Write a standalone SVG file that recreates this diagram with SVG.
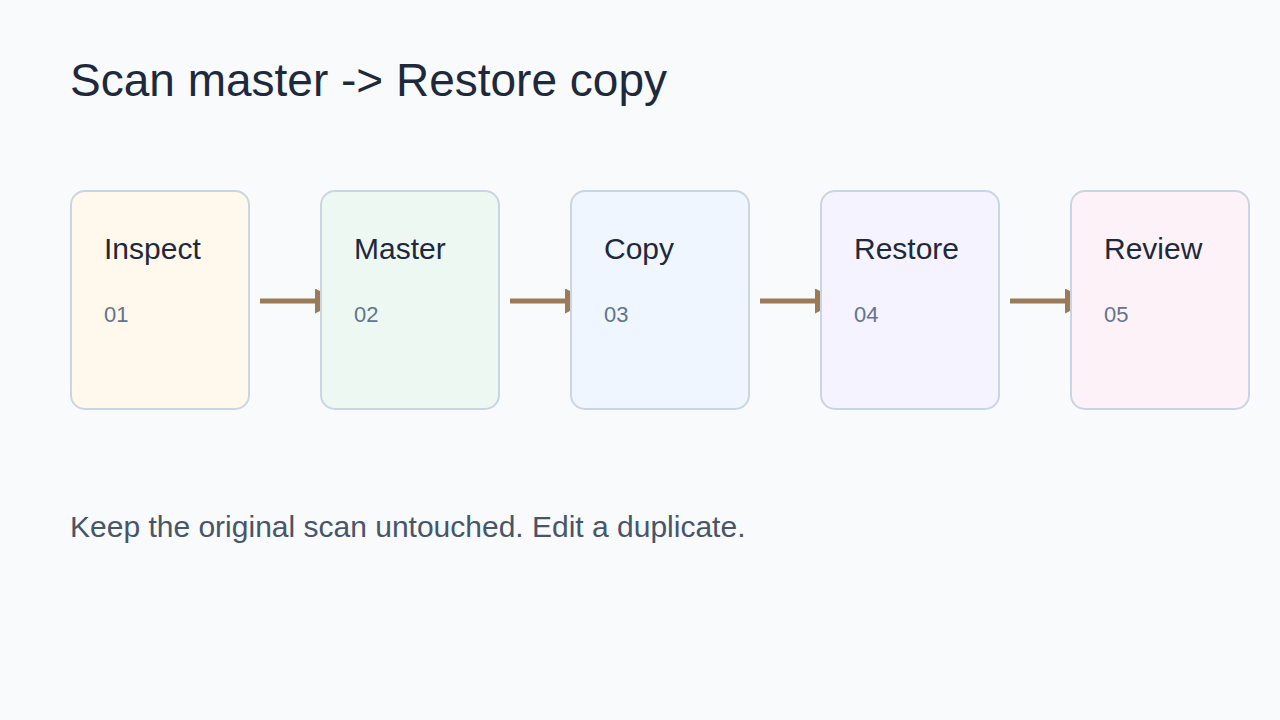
<svg xmlns="http://www.w3.org/2000/svg" width="1280" height="720" viewBox="0 0 1280 720">
<defs>
<style>
.box{stroke:#cbd5e1;stroke-width:2}
.t{font-family:"Liberation Sans",Arial,sans-serif;font-size:30px;fill:#1e293b}
.n{font-family:"Liberation Sans",Arial,sans-serif;font-size:22px;fill:#64748b}
.c{stroke:#9b7a57;stroke-width:5;fill:none}
</style>
<marker id="ah" viewBox="0 0 10 10" refX="0" refY="5" markerWidth="5" markerHeight="5" orient="auto" markerUnits="strokeWidth">
<path d="M0,0 L10,5 L0,10 z" fill="#9b7a57"/>
</marker>
</defs>
<rect width="1280" height="720" fill="#f8fafc"/>
<text x="70" y="96" font-family="Liberation Sans, Arial, sans-serif" font-size="46" fill="#1e293b">Scan master -&gt; Restore copy</text>
<g id="connectors">
<line class="c" x1="260" y1="301" x2="315" y2="301" marker-end="url(#ah)"/>
<line class="c" x1="510" y1="301" x2="565" y2="301" marker-end="url(#ah)"/>
<line class="c" x1="760" y1="301" x2="815" y2="301" marker-end="url(#ah)"/>
<line class="c" x1="1010" y1="301" x2="1065" y2="301" marker-end="url(#ah)"/>
</g>
<g id="inspect"><rect class="box" x="71" y="191" width="178" height="218" rx="14" fill="#fff8ed"/><text class="t" x="104" y="259">Inspect</text><text class="n" x="104" y="322">01</text></g>
<g id="master"><rect class="box" x="321" y="191" width="178" height="218" rx="14" fill="#eef8f3"/><text class="t" x="354" y="259">Master</text><text class="n" x="354" y="322">02</text></g>
<g id="copy"><rect class="box" x="571" y="191" width="178" height="218" rx="14" fill="#eff6ff"/><text class="t" x="604" y="259">Copy</text><text class="n" x="604" y="322">03</text></g>
<g id="restore"><rect class="box" x="821" y="191" width="178" height="218" rx="14" fill="#f5f3ff"/><text class="t" x="854" y="259">Restore</text><text class="n" x="854" y="322">04</text></g>
<g id="review"><rect class="box" x="1071" y="191" width="178" height="218" rx="14" fill="#fdf2f8"/><text class="t" x="1104" y="259">Review</text><text class="n" x="1104" y="322">05</text></g>
<text x="70" y="537" font-family="Liberation Sans, Arial, sans-serif" font-size="30" fill="#475569">Keep the original scan untouched. Edit a duplicate.</text>
</svg>
